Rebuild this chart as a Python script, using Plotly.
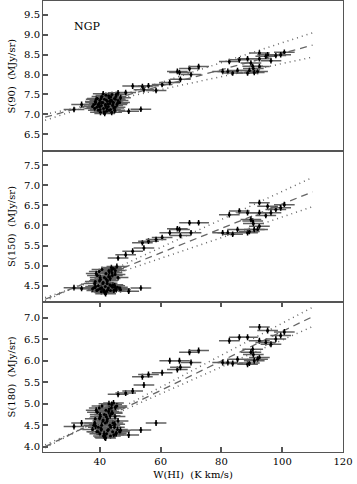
import plotly.graph_objects as go
from plotly.subplots import make_subplots

# ---- data: W(HI) in K km/s and far-IR surface brightness in MJy/sr ----
w_hi = [
    # cluster
    38.0, 38.5, 39.0, 39.2, 39.5, 39.8, 40.0, 40.2, 40.5, 40.7, 41.0, 41.2, 41.5, 41.8, 42.0,
    42.2, 42.5, 42.8, 43.0, 43.3, 43.5, 43.8, 44.0, 44.2, 44.5, 44.8, 45.0, 45.3, 45.6, 46.0,
    37.6, 38.3, 38.8, 39.4, 40.1, 40.6, 41.1, 41.6, 42.1, 42.6, 43.1, 43.6, 44.1, 44.6, 45.1,
    45.8, 46.5, 39.9, 41.4, 42.9, 44.3, 40.4, 42.4, 43.9, 45.4, 38.6, 41.9, 43.4, 44.9, 46.8,
    # rising branch
    31.5, 34.0, 46.0, 48.5, 50.8, 54.5, 54.0, 56.0, 60.5, 63.0, 65.5, 66.5, 69.5, 70.0, 72.5, 66.2,
    # outliers
    49.5, 53.5, 58.5,
    # high-column group
    82.6, 85.9, 88.6, 92.5, 95.2, 92.5, 94.6, 97.9, 100.7, 99.5, 96.3,
    90.3, 89.7, 92.5, 91.9, 90.5,
    80.4, 82.1, 83.7, 85.3, 88.6, 89.2, 90.8,
]

s90 = [
    7.25, 7.32, 7.18, 7.40, 7.10, 7.28, 7.35, 7.05, 7.22, 7.45, 7.30, 7.15, 7.38, 7.25, 7.48,
    7.08, 7.33, 7.20, 7.42, 7.27, 7.12, 7.36, 7.50, 7.22, 7.30, 7.40, 7.18, 7.45, 7.25, 7.35,
    7.20, 7.15, 7.38, 7.24, 7.12, 7.30, 7.52, 7.02, 7.36, 7.26, 7.10, 7.44, 7.32, 7.16, 7.38,
    7.28, 7.30, 7.20, 7.06, 7.47, 7.24, 7.40, 7.14, 7.05, 7.50, 7.30, 7.21, 7.34, 7.10, 7.42,
    7.12, 7.25, 7.54, 7.55, 7.71, 7.62, 7.70, 7.72, 7.75, 7.80, 8.08, 7.88, 8.15, 8.00, 8.20, 8.05,
    7.08, 7.13, 7.60,
    8.33, 8.37, 8.40, 8.54, 8.50, 8.40, 8.46, 8.48, 8.56, 8.50, 8.35,
    8.21, 8.29, 8.20, 8.08, 8.15,
    8.08, 8.08, 8.04, 8.10, 8.04, 8.10, 8.05,
]

s150 = [
    4.45, 4.60, 4.38, 4.75, 4.50, 4.85, 4.42, 4.65, 4.35, 4.90, 4.55, 4.40, 4.70, 4.48, 4.80,
    4.36, 4.62, 4.44, 4.88, 4.52, 4.38, 4.95, 4.82, 4.46, 4.92, 4.40, 4.78, 4.45, 4.98, 4.70,
    4.42, 4.55, 4.80, 4.40, 4.70, 4.45, 4.58, 4.33, 4.66, 4.40, 4.85, 4.50, 4.75, 4.38, 4.88,
    4.46, 4.42, 4.62, 4.36, 4.72, 4.52, 4.44, 4.56, 4.90, 4.40, 4.48, 4.30, 4.68, 4.50, 4.40,
    4.45, 4.43, 5.19, 5.27, 5.36, 5.44, 5.57, 5.61, 5.70, 5.82, 5.92, 5.75, 6.07, 5.82, 6.07, 5.90,
    4.36, 4.44, 5.65,
    6.27, 6.36, 6.32, 6.57, 6.48, 6.32, 6.25, 6.40, 6.52, 6.44, 6.32,
    6.11, 6.15, 5.98, 5.90, 6.05,
    5.82, 5.82, 5.78, 5.90, 5.82, 5.85, 5.90,
]

s180 = [
    4.50, 4.65, 4.35, 4.80, 4.45, 4.90, 4.30, 4.70, 4.40, 4.95, 4.60, 4.25, 4.75, 4.55, 4.85,
    4.30, 4.65, 4.40, 5.00, 4.50, 4.25, 4.90, 4.80, 4.35, 5.02, 4.45, 4.70, 4.30, 4.95, 4.60,
    4.40, 4.55, 4.85, 4.35, 4.75, 4.50, 4.62, 4.22, 4.70, 4.38, 4.88, 4.45, 4.78, 4.28, 4.92,
    4.40, 4.35, 4.66, 4.30, 4.82, 4.55, 4.42, 4.60, 4.98, 4.32, 4.48, 4.20, 4.72, 4.52, 4.38,
    4.47, 4.55, 5.22, 5.25, 5.30, 5.44, 5.63, 5.68, 5.72, 6.00, 5.80, 5.85, 6.20, 5.96, 6.24, 6.00,
    4.27, 4.39, 4.55,
    6.47, 6.55, 6.55, 6.79, 6.71, 6.47, 6.43, 6.51, 6.67, 6.59, 6.39,
    6.27, 6.20, 6.08, 6.04, 6.15,
    5.96, 5.96, 5.94, 6.04, 5.92, 5.95, 6.00,
]

# fitted relations (value at the two ends of the fit range) : best fit, upper, lower
fit_x = [22, 110]
fit90 = {"best": [6.93, 8.74], "hi": [6.85, 9.05], "lo": [7.00, 8.44]}
fit150 = {"best": [4.16, 6.84], "hi": [4.12, 7.20], "lo": [4.20, 6.47]}
fit180 = {"best": [4.00, 7.03], "hi": [3.97, 7.25], "lo": [4.04, 6.80]}

ylabels = ["S(90)\u00a0 (MJy/sr)", "S(150)\u00a0 (MJy/sr)", "S(180)\u00a0 (MJy/sr)"]
yranges = [[6.07, 9.85], [4.1, 7.85], [3.875, 7.38]]
ytickvals = [[6.5, 7.0, 7.5, 8.0, 8.5, 9.0, 9.5],
             [4.5, 5.0, 5.5, 6.0, 6.5, 7.0, 7.5],
             [4.0, 4.5, 5.0, 5.5, 6.0, 6.5, 7.0]]
xtickvals = [40, 60, 80, 100, 120]

FONT = "DejaVu Serif"

fig = make_subplots(rows=3, cols=1, shared_xaxes=True, vertical_spacing=0)

for row, (ys, fit) in enumerate([(s90, fit90), (s150, fit150), (s180, fit180)], start=1):
    fig.add_trace(go.Scatter(x=fit_x, y=fit["hi"], mode="lines",
                             line=dict(color="#666", width=1.5, dash="1px,4px")), row=row, col=1)
    fig.add_trace(go.Scatter(x=fit_x, y=fit["lo"], mode="lines",
                             line=dict(color="#666", width=1.5, dash="1px,4px")), row=row, col=1)
    fig.add_trace(go.Scatter(x=fit_x, y=fit["best"], mode="lines",
                             line=dict(color="#666", width=1.3, dash="7px,5px")), row=row, col=1)
    fig.add_trace(go.Scatter(
        x=w_hi, y=ys, mode="markers",
        marker=dict(color="black", size=3),
        error_x=dict(type="constant", value=3.4, color="#606060", thickness=1.5, width=0),
        error_y=dict(type="constant", value=0.07, color="black", thickness=1.5, width=0),
    ), row=row, col=1)

axis_common = dict(showline=True, linecolor="#555", linewidth=1, mirror=True,
                   showgrid=False, zeroline=False, automargin=False,
                   tickfont=dict(family=FONT, size=10, color="black"))

for row in range(1, 4):
    fig.update_yaxes(range=yranges[row - 1], tickvals=ytickvals[row - 1], tickformat=".1f",
                     ticks="inside", ticklen=5, tickcolor="#555", tickwidth=1.5,
                     title=dict(text=ylabels[row - 1], font=dict(family=FONT, size=10, color="black"),
                                standoff=6),
                     row=row, col=1, **axis_common)
    fig.update_xaxes(range=[21.3, 120], tickvals=xtickvals, row=row, col=1, **axis_common)

fig.update_xaxes(ticks="", showticklabels=False, row=1, col=1)
fig.update_xaxes(ticks="", showticklabels=False, row=2, col=1)
fig.update_xaxes(ticks="inside", ticklen=5, tickcolor="#555", tickwidth=1.5, mirror="ticks",
                 showticklabels=True,
                 title=dict(text="W(HI)\u00a0 (K km/s)", font=dict(family=FONT, size=10, color="black"),
                            standoff=4),
                 row=3, col=1)

fig.add_annotation(x=35.9, y=9.2, xref="x", yref="y", text="NGP", showarrow=False,
                   font=dict(family=FONT, size=11, color="black"))

fig.update_layout(width=357, height=484, showlegend=False,
                  margin=dict(l=43, r=14, t=1, b=32),
                  plot_bgcolor="white", paper_bgcolor="white")

fig.write_html("out.html", config={"displayModeBar": False},
               post_script="document.body.style.margin='0';")
